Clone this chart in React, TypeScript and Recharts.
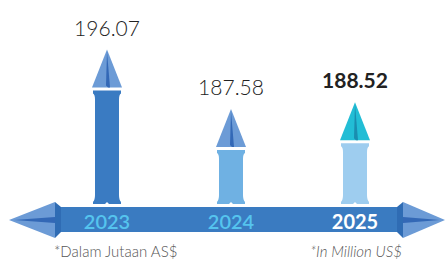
import React from "react";
import { BarChart, Bar, XAxis, YAxis, LabelList, Cell } from "recharts";

const years = ["2023", "2024", "2025"];
const values = [196.07, 187.58, 188.52];
const shaftColors = ["#3a7bc2", "#6fb1e3", "#9ecdef"];
const headColors = ["#6c9bd6", "#6c9bd6", "#22bdd5"];
const foldColors = ["#3368b6", "#3368b6", "#1a8daf"];
const yearColors = ["#55c4ee", "#55c4ee", "#ffffff"];
const yearWeights = [600, 600, 700];
const labelWeights = [300, 300, 700];
const noteLeft = "*Dalam Jutaan AS$";
const noteRight = "*In Million US$";

const data = years.map((y, i) => ({ year: y, value: values[i], idx: i }));

const FONT = "Lato, 'Open Sans', sans-serif";
const LIGHT = "'Lato Light', Lato, 'Open Sans', sans-serif";

const ArrowBar = (props: any) => {
  const { x, y, width, height, index } = props;
  const cx = x + width / 2;
  const headH = 38;
  const half = 15;
  const bottom = y + height;
  const sTop = y + 41;
  const sw = 12;
  const cw = 14;
  const shaft = `M${cx - cw},${sTop} L${cx + cw},${sTop} L${cx + cw},${sTop + 3}
    Q${cx + sw},${sTop + 4} ${cx + sw},${sTop + 9} L${cx + sw},${bottom - 9}
    Q${cx + sw},${bottom - 4} ${cx + cw},${bottom - 2} L${cx + cw},${bottom}
    L${cx + 2},${bottom} L${cx},${bottom - 2} L${cx - 2},${bottom} L${cx - cw},${bottom}
    L${cx - cw},${bottom - 2} Q${cx - sw},${bottom - 4} ${cx - sw},${bottom - 9}
    L${cx - sw},${sTop + 9} Q${cx - sw},${sTop + 4} ${cx - cw},${sTop + 3} Z`;
  return (
    <g>
      <path d={shaft} fill={shaftColors[index]} />
      <polygon
        points={`${cx},${y} ${cx - half},${y + headH} ${cx + half},${y + headH}`}
        fill={headColors[index]}
      />
      <polygon
        points={`${cx},${y + 2} ${cx - 1},${y + headH - 2} ${cx + 1},${y + headH} ${cx + 3},${y + headH}`}
        fill={foldColors[index]}
      />
    </g>
  );
};

const YearTick = (props: any) => {
  const { x, y, payload, index } = props;
  return (
    <text
      x={x}
      y={y}
      dy={17}
      textAnchor="middle"
      fontFamily={FONT}
      fontSize={20}
      fontWeight={yearWeights[index]}
      fill={yearColors[index]}
    >
      {payload.value}
    </text>
  );
};

const ValueLabel = (props: any) => {
  const { x, y, width, value, index } = props;
  return (
    <text
      x={x + width / 2}
      y={y - 14}
      textAnchor="middle"
      fontFamily={index === 2 ? FONT : LIGHT}
      fontSize={21}
      fontWeight={labelWeights[index]}
      fill="#222"
    >
      {value}
    </text>
  );
};

export default function App() {
  return (
    <div style={{ position: "absolute", left: 0, top: 0, width: 445, height: 260, background: "#fff" }}>
      <svg width={445} height={260} style={{ position: "absolute", left: 0, top: 0 }}>
        <rect x={58} y={207} width={342} height={25} fill="#3a7bc1" />
        <polygon points="55,202 61,207 61,232 55,238" fill="#2f6cb4" />
        <polygon points="9,220 55,202 55,238" fill="#6c9bd6" />
        <polygon points="14,220 55,217 55,223" fill="#3368b6" />
        <polygon points="403,202 397,207 397,232 403,238" fill="#2f6cb4" />
        <polygon points="445,220 403,202 403,238" fill="#6c9bd6" />
        <polygon points="440,220 403,217 403,223" fill="#3368b6" />
        <text x={54} y={257} fontFamily={LIGHT} fontSize={15} fontWeight={300} fill="#555">
          {noteLeft}
        </text>
        <text x={356} y={257} textAnchor="middle" fontFamily={LIGHT} fontSize={15} fontWeight={300} fontStyle="italic" fill="#555">
          {noteRight}
        </text>
      </svg>
      <div style={{ position: "absolute", left: 0, top: 0 }}>
        <BarChart width={445} height={260} data={data} margin={{ top: 22, right: 28, bottom: 26, left: 45 }}>
          <XAxis dataKey="year" height={30} axisLine={false} tickLine={false} tick={<YearTick />} interval={0} />
          <YAxis hide domain={[174, 200]} allowDataOverflow />
          <Bar dataKey="value" barSize={30} shape={<ArrowBar />} isAnimationActive={false}>
            {data.map((d) => (
              <Cell key={d.year} />
            ))}
            <LabelList dataKey="value" content={<ValueLabel />} />
          </Bar>
        </BarChart>
      </div>
    </div>
  );
}
